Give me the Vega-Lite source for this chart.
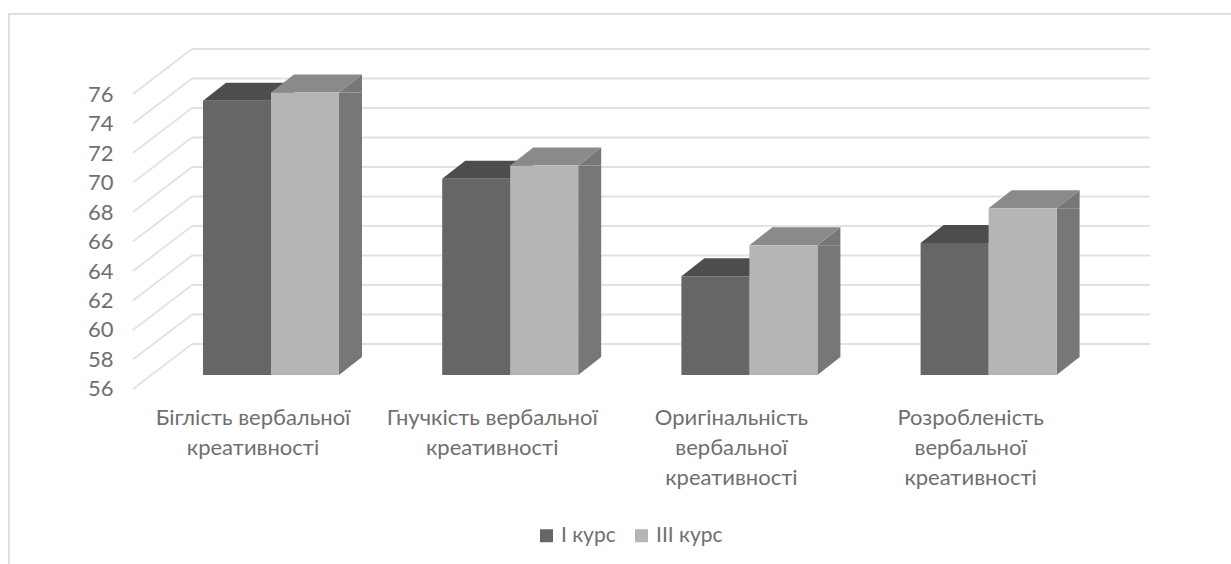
{
  "$schema": "https://vega.github.io/schema/vega-lite/v6.json",
  "autosize": "none",
  "padding": {"left": 9, "top": 14, "right": 0, "bottom": 0},
  "width": 1225,
  "height": 560,
  "background": "white",
  "config": {
    "view": {"stroke": "#dfdfdf", "strokeWidth": 2},
    "font": "Lato",
    "axis": {"grid": false, "domain": false, "ticks": false, "title": null}
  },
  "datasets": {
    "bars": [
      {"category": "Біглість вербальної креативності", "course": "I курс", "value": 74.6},
      {"category": "Біглість вербальної креативності", "course": "III курс", "value": 75.15},
      {"category": "Гнучкість вербальної креативності", "course": "I курс", "value": 69.3},
      {"category": "Гнучкість вербальної креативності", "course": "III курс", "value": 70.2},
      {"category": "Оригінальність вербальної креативності", "course": "I курс", "value": 62.7},
      {"category": "Оригінальність вербальної креативності", "course": "III курс", "value": 64.8},
      {"category": "Розробленість вербальної креативності", "course": "I курс", "value": 64.95},
      {"category": "Розробленість вербальної креативності", "course": "III курс", "value": 67.3}
    ],
    "ticks": [
      {"tick": 56}, {"tick": 58}, {"tick": 60}, {"tick": 62}, {"tick": 64}, {"tick": 66},
      {"tick": 68}, {"tick": 70}, {"tick": 72}, {"tick": 74}, {"tick": 76}
    ]
  },
  "resolve": {"scale": {"x": "independent", "xOffset": "independent"}, "axis": {"y": "independent"}},
  "layer": [
    {
      "description": "Side wall of the chart box: one diagonal per tick, with the value labels",
      "data": {"name": "ticks"},
      "mark": {"type": "rule", "color": "#e2e2e2", "strokeWidth": 1.8, "xOffset": -59, "yOffset": 14, "y2Offset": -31},
      "encoding": {
        "x": {"datum": 0, "type": "quantitative", "scale": {"domain": [0, 1], "range": [183, 1141]}, "axis": null},
        "x2": {"datum": 0},
        "y": {
          "field": "tick",
          "type": "quantitative",
          "scale": {"domain": [42.508, 80.475], "nice": false, "zero": false},
          "axis": {
            "orient": "left",
            "offset": -104,
            "values": [56, 58, 60, 62, 64, 66, 68, 70, 72, 74, 76],
            "labelOffset": 14,
            "labelPadding": 0,
            "labelFontSize": 22,
            "labelColor": "#6f6f6f"
          }
        },
        "y2": {"field": "tick"}
      }
    },
    {
      "description": "Back wall gridlines",
      "data": {"name": "ticks"},
      "mark": {"type": "rule", "color": "#e2e2e2", "strokeWidth": 1.8, "yOffset": -31},
      "encoding": {
        "x": {"datum": 0, "type": "quantitative", "scale": {"domain": [0, 1], "range": [183, 1141]}, "axis": null},
        "x2": {"datum": 1},
        "y": {"field": "tick", "type": "quantitative", "scale": {"domain": [42.508, 80.475], "nice": false, "zero": false}, "axis": null}
      }
    },
    {
      "description": "Body of each bar's side face, one depth step to the right of its front face",
      "data": {"name": "bars"},
      "mark": {"type": "bar", "width": 23, "y2Offset": -18},
      "encoding": {
        "x": {
          "field": "category",
          "type": "nominal",
          "sort": null,
          "scale": {"range": [124.4, 1081.2], "paddingInner": 0, "paddingOuter": 0},
          "axis": null
        },
        "xOffset": {
          "field": "course",
          "type": "nominal",
          "sort": null,
          "scale": {"range": [115.1, 251.1], "paddingInner": 0, "paddingOuter": 0}
        },
        "y": {"field": "value", "type": "quantitative", "scale": {"domain": [42.508, 80.475], "nice": false, "zero": false}, "axis": null},
        "y2": {"datum": 56},
        "fill": {"condition": {"test": "datum.course === 'I курс'", "value": "#555555"}, "value": "#777777"}
      }
    },
    {
      "description": "Bars: slanted ends of the side faces, top faces, then the front faces",
      "data": {"name": "bars"},
      "encoding": {
        "x": {
          "field": "category",
          "type": "nominal",
          "sort": null,
          "scale": {"range": [124.4, 1081.2], "paddingInner": 0, "paddingOuter": 0},
          "axis": {
            "orient": "bottom",
            "offset": -167,
            "labelAngle": 0,
            "labelPadding": 0,
            "labelFontSize": 22,
            "labelLineHeight": 30,
            "labelColor": "#6f6f6f",
            "labelLimit": 400,
            "labelExpr": "length(datum.label) > 34 ? split(datum.label, ' ') : [replace(datum.label, ' креативності', ''), 'креативності']"
          }
        },
        "xOffset": {
          "field": "course",
          "type": "nominal",
          "sort": null,
          "scale": {"range": [69.6, 205.6], "paddingInner": 0, "paddingOuter": 0}
        }
      },
      "layer": [
        {
          "mark": {"type": "point", "filled": true, "opacity": 1, "size": 4, "shape": "M34,0 L57,-18 L57,0 Z"},
          "encoding": {
            "y": {"field": "value", "type": "quantitative", "scale": {"domain": [42.508, 80.475], "nice": false, "zero": false}, "axis": null},
            "fill": {"condition": {"test": "datum.course === 'I курс'", "value": "#555555"}, "value": "#777777"}
          }
        },
        {
          "mark": {"type": "point", "filled": true, "opacity": 1, "size": 4, "shape": "M34,0 L57,-18 L34,-18 Z"},
          "encoding": {
            "y": {"datum": 56, "type": "quantitative", "scale": {"domain": [42.508, 80.475], "nice": false, "zero": false}, "axis": null},
            "fill": {"condition": {"test": "datum.course === 'I курс'", "value": "#555555"}, "value": "#777777"}
          }
        },
        {
          "mark": {"type": "point", "filled": true, "opacity": 1, "size": 4, "shape": "M-34,0 L34,0 L57,-18 L-11,-18 Z"},
          "encoding": {
            "y": {"field": "value", "type": "quantitative", "scale": {"domain": [42.508, 80.475], "nice": false, "zero": false}, "axis": null},
            "fill": {"condition": {"test": "datum.course === 'I курс'", "value": "#4d4d4d"}, "value": "#8a8a8a"}
          }
        },
        {
          "mark": {"type": "bar"},
          "encoding": {
            "y": {"field": "value", "type": "quantitative", "scale": {"domain": [42.508, 80.475], "nice": false, "zero": false}, "axis": null},
            "y2": {"datum": 56},
            "color": {
              "field": "course",
              "type": "nominal",
              "sort": null,
              "scale": {"domain": ["I курс", "III курс"], "range": ["#666666", "#b5b5b5"]},
              "legend": {
                "title": null,
                "orient": "none",
                "legendX": 527,
                "legendY": 511,
                "direction": "horizontal",
                "columns": 2,
                "symbolType": "square",
                "symbolSize": 169,
                "symbolStrokeWidth": 0,
                "labelFontSize": 21,
                "labelColor": "#6f6f6f",
                "columnPadding": 15
              }
            }
          }
        }
      ]
    }
  ]
}
